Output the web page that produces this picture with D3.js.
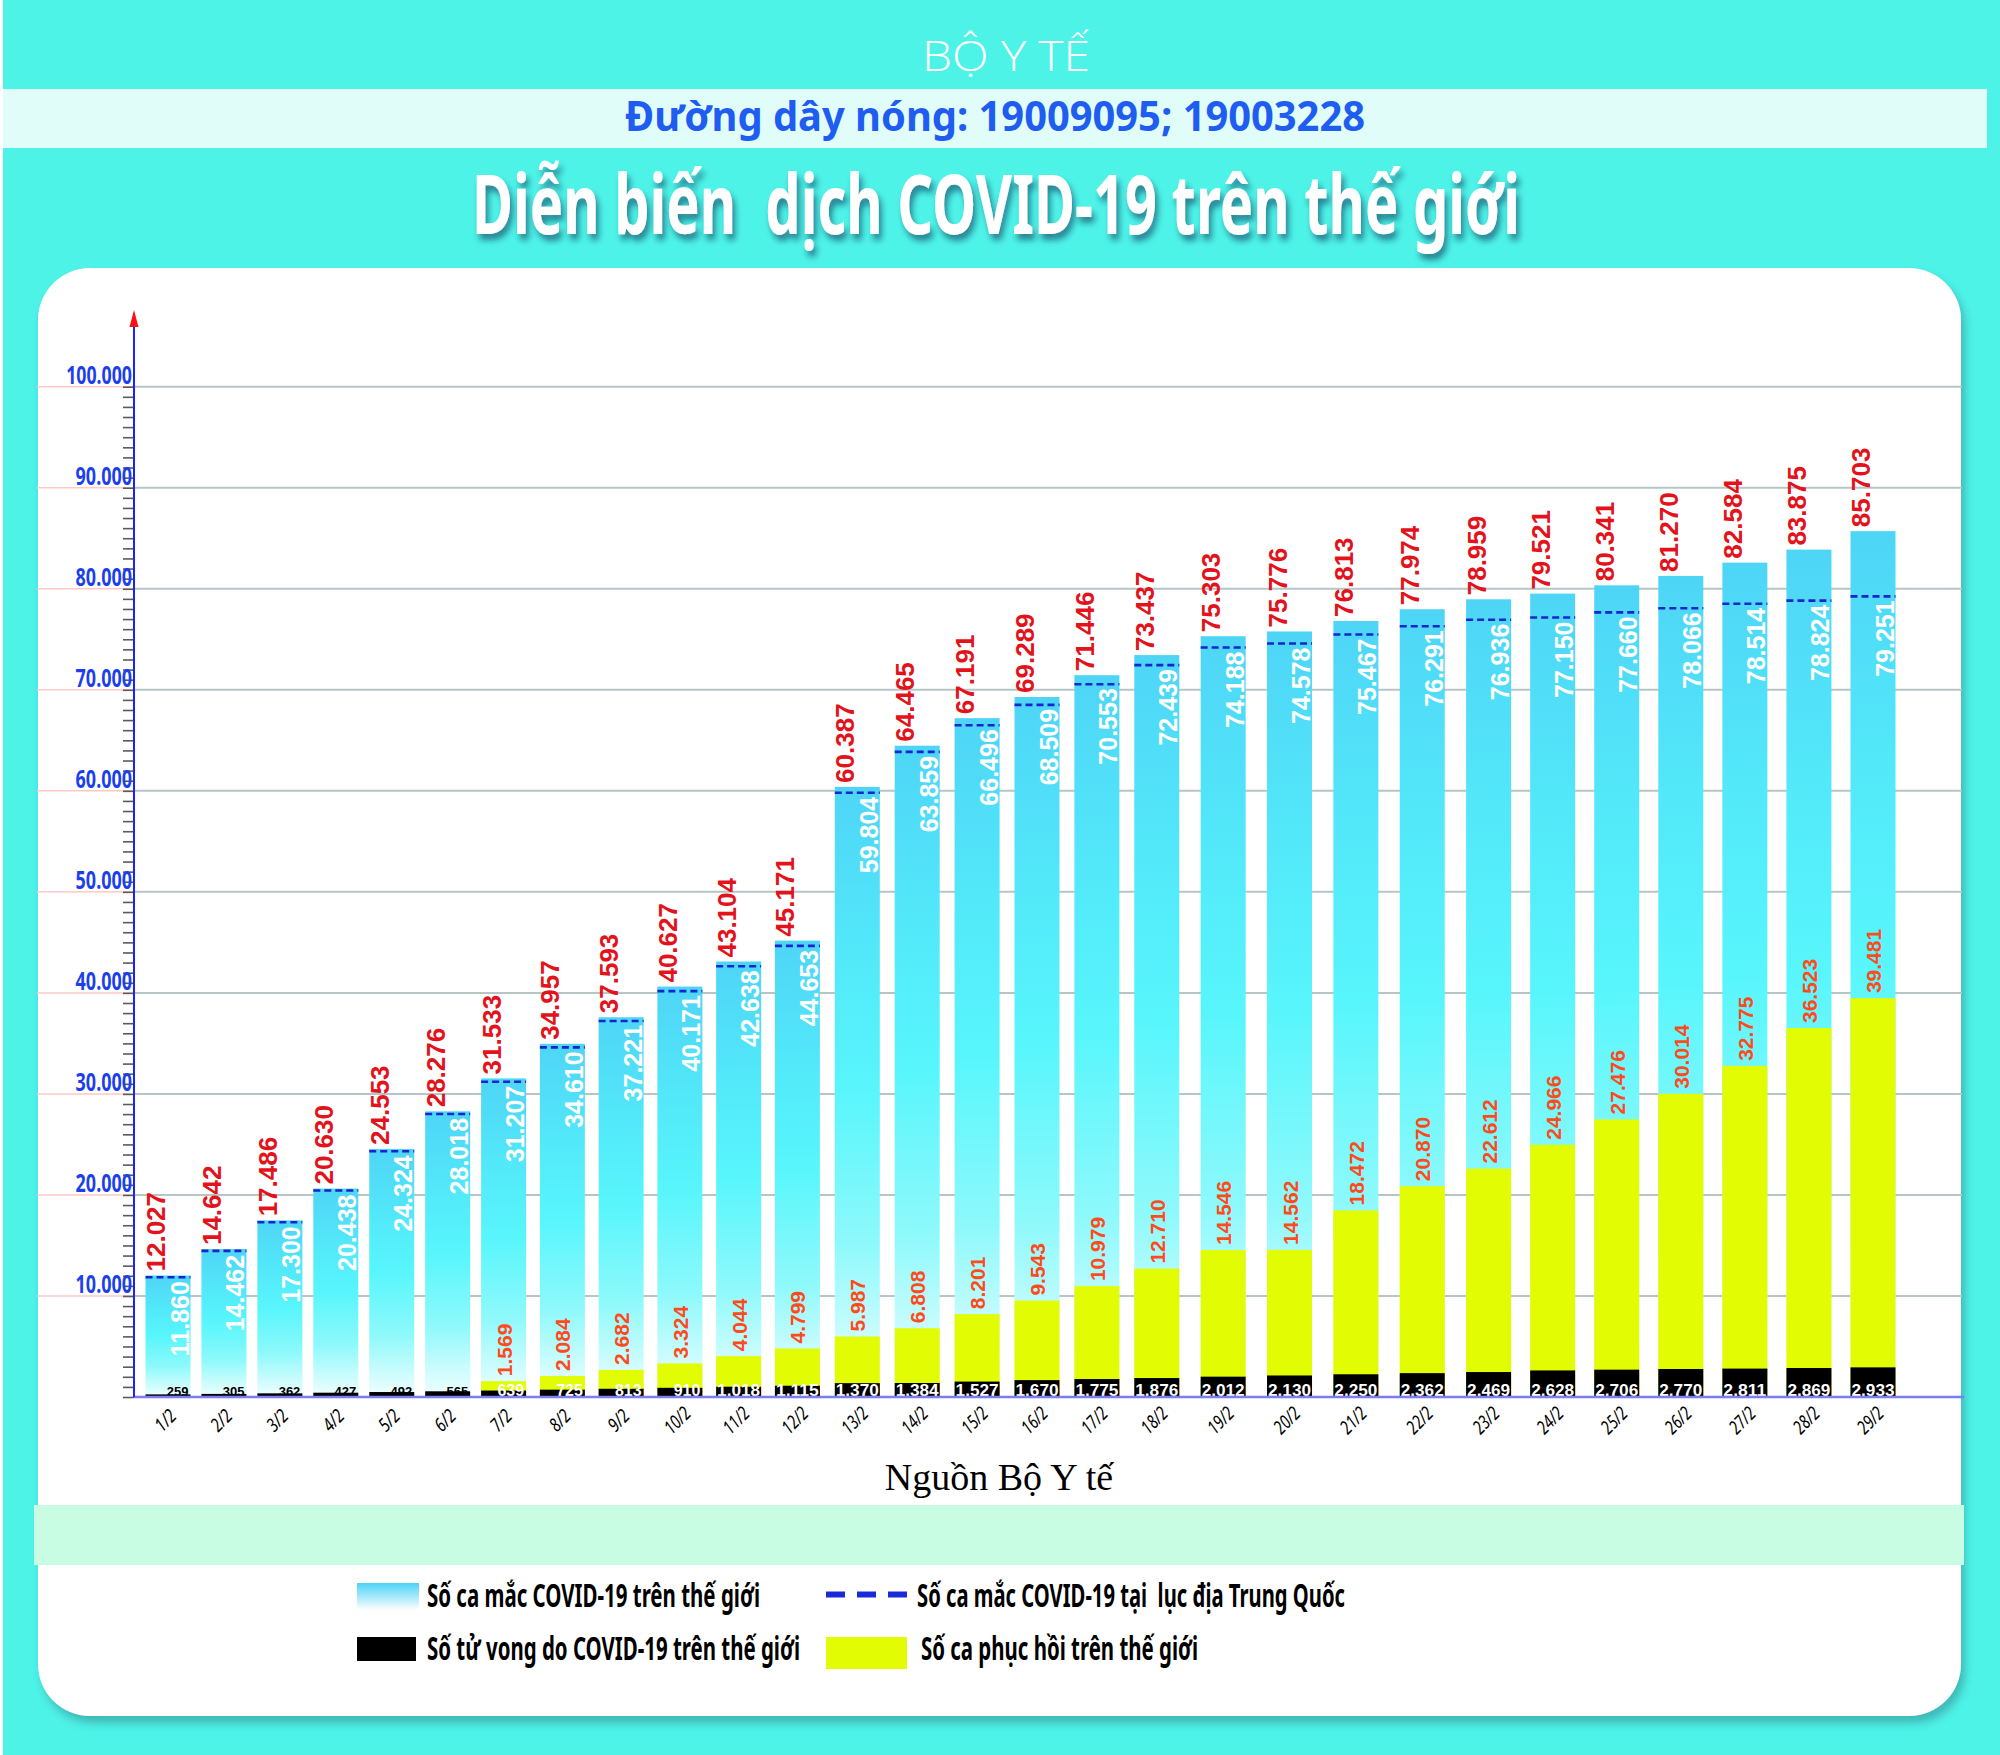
<!DOCTYPE html>
<html lang="vi">
<head>
<meta charset="utf-8">
<title>Diễn biến dịch COVID-19 trên thế giới</title>
<script src="https://cdn.jsdelivr.net/npm/d3@7"></script>
<style>
  body { margin: 0; background: #4ef3e8; }
  svg { display: block; }
  .cond { font-family: "Noto Sans", "Open Sans", sans-serif; font-stretch: extra-condensed; font-weight: 700; white-space: pre; }
  .arial { font-family: "Liberation Sans", Arial, sans-serif; font-weight: 700; }
</style>
</head>
<body>
<div id="chart"></div>
<script>
const days = ["1/2", "2/2", "3/2", "4/2", "5/2", "6/2", "7/2", "8/2", "9/2", "10/2",
  "11/2", "12/2", "13/2", "14/2", "15/2", "16/2", "17/2", "18/2", "19/2", "20/2",
  "21/2", "22/2", "23/2", "24/2", "25/2", "26/2", "27/2", "28/2", "29/2"];

const worldCases = [12027, 14642, 17486, 20630, 24553, 28276, 31533, 34957, 37593, 40627,
  43104, 45171, 60387, 64465, 67191, 69289, 71446, 73437, 75303, 75776,
  76813, 77974, 78959, 79521, 80341, 81270, 82584, 83875, 85703];

const chinaCases = [11860, 14462, 17300, 20438, 24324, 28018, 31207, 34610, 37221, 40171,
  42638, 44653, 59804, 63859, 66496, 68509, 70553, 72439, 74188, 74578,
  75467, 76291, 76936, 77150, 77660, 78066, 78514, 78824, 79251];

// recovered not shown on the chart before 7/2
const recovered = [null, null, null, null, null, null, 1569, 2084, 2682, 3324,
  4044, 4799, 5987, 6808, 8201, 9543, 10979, 12710, 14546, 14562,
  18472, 20870, 22612, 24966, 27476, 30014, 32775, 36523, 39481];

const deaths = [259, 305, 362, 427, 492, 565, 639, 725, 813, 910,
  1018, 1115, 1370, 1384, 1527, 1670, 1775, 1876, 2012, 2130,
  2250, 2362, 2469, 2628, 2706, 2770, 2811, 2869, 2933];

const yTicks = [10000, 20000, 30000, 40000, 50000, 60000, 70000, 80000, 90000, 100000];

const legendLabels = {
  world: "Số ca mắc COVID-19 trên thế giới",
  china: "Số ca mắc COVID-19 tại  lục địa Trung Quốc",
  deaths: "Số tử vong do COVID-19 trên thế giới",
  recovered: "Số ca phục hồi trên thế giới"
};

const fmt = v => d3.format(",")(v).replace(/,/g, ".");

const W = 2000, H = 1755;
const svg = d3.select("#chart").append("svg")
  .attr("width", W)
  .attr("height", H);

const defs = svg.append("defs");

// bar gradient: sky blue on top, cyan middle, almost white at the base
const barGrad = defs.append("linearGradient").attr("id", "barGrad")
  .attr("x1", 0).attr("y1", 0).attr("x2", 0).attr("y2", 1);
[[0, "#4ed5f6"], [0.3, "#53eafa"], [0.5, "#58f6fc"], [0.75, "#8ef9fb"], [1, "#f2fefe"]]
  .forEach(([o, c]) => barGrad.append("stop").attr("offset", o).attr("stop-color", c));

const keyGrad = defs.append("linearGradient").attr("id", "keyGrad")
  .attr("x1", 0).attr("y1", 0).attr("x2", 0).attr("y2", 1);
keyGrad.append("stop").attr("offset", 0).attr("stop-color", "#4bd3f6");
keyGrad.append("stop").attr("offset", 1).attr("stop-color", "#ffffff");

defs.append("filter").attr("id", "titleShadow")
  .attr("x", "-10%").attr("y", "-60%").attr("width", "120%").attr("height", "230%")
  .append("feDropShadow")
  .attr("dx", 3).attr("dy", 6).attr("stdDeviation", 3)
  .attr("flood-color", "#1b5d78").attr("flood-opacity", 0.75);

defs.append("filter").attr("id", "panelShadow")
  .attr("x", "-5%").attr("y", "-5%").attr("width", "110%").attr("height", "112%")
  .append("feDropShadow")
  .attr("dx", 4).attr("dy", 7).attr("stdDeviation", 5)
  .attr("flood-color", "#2c6f78").attr("flood-opacity", 0.45);

// ---- background & header
svg.append("rect").attr("width", W).attr("height", H).attr("fill", "#4ef3e8");
svg.append("rect").attr("width", 3).attr("height", H).attr("fill", "#ffffff");

svg.append("text")
  .attr("x", 1006).attr("y", 71)
  .attr("text-anchor", "middle")
  .attr("textLength", 168).attr("lengthAdjust", "spacingAndGlyphs")
  .style("font-family", "'Open Sans', sans-serif")
  .style("font-weight", 300)
  .style("font-size", "42px")
  .attr("fill", "#ffffff")
  .text("BỘ Y TẾ");

svg.append("rect")
  .attr("x", 3).attr("y", 89).attr("width", 1984).attr("height", 59)
  .attr("fill", "#e1fdf9");

svg.append("text")
  .attr("class", "cond")
  .attr("x", 995).attr("y", 131)
  .attr("text-anchor", "middle")
  .attr("textLength", 740).attr("lengthAdjust", "spacingAndGlyphs")
  .style("font-size", "42px")
  .attr("fill", "#1f5cf2")
  .text("Đường dây nóng: 19009095; 19003228");

svg.append("text")
  .attr("class", "cond")
  .attr("x", 996).attr("y", 234)
  .attr("text-anchor", "middle")
  .attr("textLength", 1048).attr("lengthAdjust", "spacingAndGlyphs")
  .style("font-size", "82px")
  .attr("fill", "#ffffff")
  .attr("filter", "url(#titleShadow)")
  .text("Diễn biến  dịch COVID-19 trên thế giới");

// ---- white panel
svg.append("rect")
  .attr("x", 38).attr("y", 268).attr("width", 1923).attr("height", 1448)
  .attr("rx", 52)
  .attr("fill", "#ffffff")
  .attr("filter", "url(#panelShadow)");

// ---- scales
const axisX = 134;
const gridRight = 1962;
const barW = 45;

// bar spacing in the original is hand-laid and widens to the right
const x = d3.scaleLinear()
  .domain([0, 6, 11, 17, 22, 28])
  .range([168, 503.6, 797.4, 1156.8, 1488.6, 1873]);

const y = d3.scaleLinear()
  .domain([0, 100000])
  .range([1397, 386.7]);

const chart = svg.append("g");

// gridlines
chart.append("g").selectAll("line.grid")
  .data(yTicks).enter().append("line")
  .attr("x1", axisX).attr("x2", gridRight)
  .attr("y1", d => y(d)).attr("y2", d => y(d))
  .attr("stroke", "#b6c6c6").attr("stroke-width", 2);

chart.append("g").selectAll("line.pink")
  .data(yTicks).enter().append("line")
  .attr("x1", 37).attr("x2", axisX)
  .attr("y1", d => y(d)).attr("y2", d => y(d))
  .attr("stroke", "#ffc9c6").attr("stroke-width", 1.5);

// minor ticks every 1.000
const yAxis = chart.append("g")
  .attr("transform", `translate(${axisX},0)`)
  .call(d3.axisLeft(y).tickValues(d3.range(0, 100001, 1000)).tickSize(11).tickFormat(""));
yAxis.select(".domain").remove();
yAxis.selectAll(".tick line").attr("stroke", "#5a5a5a").attr("stroke-width", 1.6);

// y labels
chart.append("g").selectAll("text")
  .data(yTicks).enter().append("text")
  .attr("class", "cond")
  .attr("x", axisX - 2).attr("y", d => y(d) - 3)
  .attr("text-anchor", "end")
  .attr("textLength", d => fmt(d).length * 9.4).attr("lengthAdjust", "spacingAndGlyphs")
  .style("font-size", "25px")
  .attr("fill", "#1b3ff0")
  .text(d => fmt(d));

// ---- bars
const idx = d3.range(days.length);
const bars = chart.append("g");

bars.selectAll("rect.world")
  .data(idx).enter().append("rect")
  .attr("x", i => x(i) - barW / 2)
  .attr("y", i => y(worldCases[i]))
  .attr("width", barW)
  .attr("height", i => y(0) - y(worldCases[i]))
  .attr("fill", "url(#barGrad)");

const recIdx = idx.filter(i => recovered[i] != null);
bars.selectAll("rect.rec")
  .data(recIdx).enter().append("rect")
  .attr("x", i => x(i) - barW / 2)
  .attr("y", i => y(recovered[i]))
  .attr("width", barW)
  .attr("height", i => y(0) - y(recovered[i]))
  .attr("fill", "#e2fd03");

bars.selectAll("rect.death")
  .data(idx).enter().append("rect")
  .attr("x", i => x(i) - barW / 2)
  .attr("y", i => y(deaths[i]))
  .attr("width", barW)
  .attr("height", i => y(0) - y(deaths[i]))
  .attr("fill", "#000000");

// China mainland dashed marks
bars.selectAll("line.china")
  .data(idx).enter().append("line")
  .attr("x1", i => x(i) - barW / 2).attr("x2", i => x(i) + barW / 2)
  .attr("y1", i => y(chinaCases[i])).attr("y2", i => y(chinaCases[i]))
  .attr("stroke", "#1426cf").attr("stroke-width", 2.6)
  .attr("stroke-dasharray", "7,4");

// ---- value labels
const labels = chart.append("g").attr("class", "arial");

labels.selectAll("text.world")
  .data(idx).enter().append("text")
  .attr("transform", i => `translate(${x(i) - 3},${y(worldCases[i]) - 4}) rotate(-90)`)
  .style("font-size", "26px")
  .attr("fill", "#e3121b")
  .text(i => fmt(worldCases[i]));

labels.selectAll("text.china")
  .data(idx).enter().append("text")
  .attr("transform", i => `translate(${x(i) + barW / 2 - 2},${y(chinaCases[i]) + 4}) rotate(-90)`)
  .attr("text-anchor", "end")
  .style("font-size", "25px")
  .attr("fill", "#ffffff")
  .text(i => fmt(chinaCases[i]));

labels.selectAll("text.rec")
  .data(recIdx).enter().append("text")
  .attr("transform", i => `translate(${x(i) + 8},${y(recovered[i]) - 5}) rotate(-90)`)
  .style("font-size", "21px")
  .attr("fill", "#ff4a1c")
  .text(i => fmt(recovered[i]));

labels.selectAll("text.death")
  .data(idx).enter().append("text")
  .attr("x", i => deaths[i] >= 1000 ? x(i) : x(i) + barW / 2 - 2)
  .attr("y", y(0) - 1)
  .attr("text-anchor", i => deaths[i] >= 1000 ? "middle" : "end")
  .each(function (i) {
    if (deaths[i] >= 1000) {
      d3.select(this).attr("textLength", barW - 2).attr("lengthAdjust", "spacingAndGlyphs");
    }
  })
  .style("font-size", i => i < 6 ? "13px" : "16px")
  .attr("fill", i => i < 6 ? "#000000" : "#ffffff")
  .text(i => fmt(deaths[i]));

// ---- axes lines
chart.append("line")
  .attr("x1", axisX).attr("x2", gridRight + 2)
  .attr("y1", y(0)).attr("y2", y(0))
  .attr("stroke", "#7c7cf4").attr("stroke-width", 2.5);

chart.append("line")
  .attr("x1", axisX).attr("x2", axisX)
  .attr("y1", 326).attr("y2", y(0))
  .attr("stroke", "#1a22ff").attr("stroke-width", 2);

chart.append("path")
  .attr("d", d3.line()([[axisX, 310], [axisX - 4.5, 327], [axisX + 4.5, 327]]) + "Z")
  .attr("fill", "#ff1010");

// day labels
chart.append("g").selectAll("text")
  .data(idx).enter().append("text")
  .attr("class", "cond")
  .attr("transform", i => `translate(${x(i) + 2},1425) rotate(-45)`)
  .attr("text-anchor", "middle")
  .attr("textLength", i => days[i].length * 7.2).attr("lengthAdjust", "spacingAndGlyphs")
  .style("font-style", "italic")
  .style("font-weight", 400)
  .style("font-size", "19px")
  .attr("fill", "#000000")
  .text(i => days[i]);

// ---- source
svg.append("text")
  .attr("x", 999).attr("y", 1490)
  .attr("text-anchor", "middle")
  .style("font-family", "'Liberation Serif', 'Times New Roman', serif")
  .style("font-size", "38px")
  .attr("fill", "#000000")
  .text("Nguồn Bộ Y tế");

svg.append("rect")
  .attr("x", 34).attr("y", 1505).attr("width", 1930).attr("height", 60)
  .attr("fill", "#c9fde3");

// ---- legend
const legend = svg.append("g");

legend.append("rect").attr("x", 357).attr("y", 1583).attr("width", 62).attr("height", 27)
  .attr("fill", "url(#keyGrad)");
legend.append("line").attr("x1", 826).attr("x2", 907).attr("y1", 1594.5).attr("y2", 1594.5)
  .attr("stroke", "#1a2ad8").attr("stroke-width", 6).attr("stroke-dasharray", "19,12");
legend.append("rect").attr("x", 357).attr("y", 1637).attr("width", 59).attr("height", 24)
  .attr("fill", "#000000");
legend.append("rect").attr("x", 826).attr("y", 1637).attr("width", 81).attr("height", 32)
  .attr("fill", "#e2fd03");

const legendText = [
  [legendLabels.world, 427, 1607, 333],
  [legendLabels.china, 917, 1607, 428],
  [legendLabels.deaths, 427, 1660, 373],
  [legendLabels.recovered, 921, 1660, 277]
];
legend.selectAll("text")
  .data(legendText).enter().append("text")
  .attr("class", "cond")
  .attr("x", d => d[1]).attr("y", d => d[2])
  .attr("textLength", d => d[3]).attr("lengthAdjust", "spacingAndGlyphs")
  .style("font-size", "32px")
  .attr("fill", "#000000")
  .text(d => d[0]);
</script>
</body>
</html>
